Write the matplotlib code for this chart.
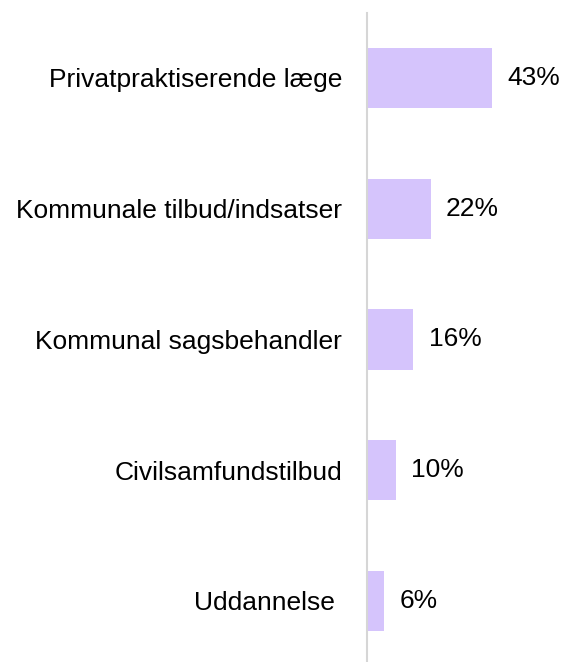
import matplotlib.pyplot as plt

plt.rcParams['font.family'] = ['Liberation Sans', 'DejaVu Sans']

kategorier = ["Privatpraktiserende læge", "Kommunale tilbud/indsatser",
              "Kommunal sagsbehandler", "Civilsamfundstilbud", "Uddannelse "]
andele = [43, 22, 16, 10, 6]

fig = plt.figure(figsize=(5.65, 6.62), dpi=100)
ax = fig.add_axes([367 / 565, 0, 178 / 565, 649 / 662])

pos = list(range(len(kategorier)))
ax.barh(pos, andele, height=0.46, color="#d5c4fc")

for p, v in zip(pos, andele):
    ax.annotate(f"{v}%", (v, p), xytext=(11, 0), textcoords="offset points",
                va="center", ha="left", fontsize=19)

ax.set_xlim(0, 61.4)
ax.set_ylim(4.467, -0.497)
ax.set_yticks(pos)
ax.set_yticklabels(kategorier, fontsize=19)
ax.tick_params(axis="y", length=0, pad=18)
ax.set_xticks([])

for s in ["top", "right", "bottom"]:
    ax.spines[s].set_visible(False)
ax.spines["left"].set_color("#d6d6d6")
ax.spines["left"].set_linewidth(1.5)

fig.savefig("out.png", dpi=100)
